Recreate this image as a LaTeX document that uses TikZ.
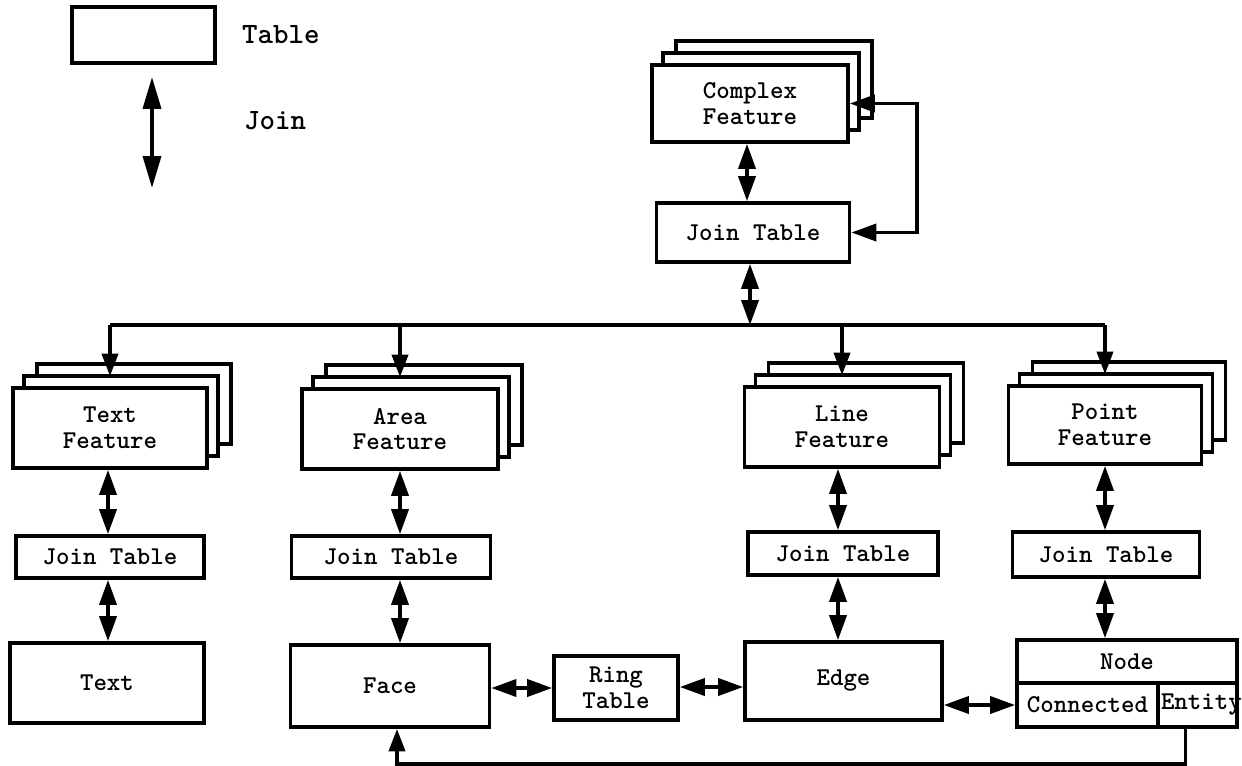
\documentclass[tikz,border=0pt]{standalone}
\usepackage{fontspec}
\usetikzlibrary{arrows.meta, shadows}

\begin{document}
\begin{tikzpicture}[x=0.02cm, y=-0.02cm,
    tbl/.style={draw, line width=2.1pt, fill=white, inner sep=0pt, align=center,
      font=\ttfamily\bfseries\fontsize{14.6}{14.6}\selectfont},
    stack/.style={tbl,
      copy shadow={shadow xshift=0.48cm, shadow yshift=0.48cm, line width=2.1pt, draw=black, fill=white},
      copy shadow={shadow xshift=0.22cm, shadow yshift=0.24cm, line width=2.1pt, draw=black, fill=white}},
    joinarr/.style={line width=2.1pt, {Triangle[length=0.5cm,width=0.34cm]}-{Triangle[length=0.5cm,width=0.34cm]}},
    into/.style={line width=2.1pt, -{Triangle[length=0.45cm,width=0.32cm]}},
    lgd/.style={font=\ttfamily\bfseries\fontsize{16.8}{17}\selectfont, anchor=west}]
  \useasboundingbox (0,0) rectangle (1242,765);

  % legend
  \node[tbl, minimum width=2.86cm, minimum height=1.12cm] (lg) at (143.5,35) {};
  \node[lgd] (lgt) at (236,35) {Table};
  \coordinate (ja) at (152,77);
  \coordinate (jb) at (152,188);
  \draw[line width=2.1pt, {Triangle[length=0.64cm,width=0.36cm]}-{Triangle[length=0.64cm,width=0.36cm]}] (ja) -- (jb);
  \node[lgd] (lgj) at (238,121) {Join};

  % complex feature
  \node[stack, minimum width=3.92cm, minimum height=1.54cm] (cf) at (750,103.5) {Complex\\Feature};
  \node[tbl, minimum width=3.86cm, minimum height=1.18cm] (cj) at (753,232.5) {Join Table};
  \coordinate (bus) at (750,325);

  % features
  \node[stack, minimum width=3.88cm, minimum height=1.6cm] (tf) at (110,428) {Text\\Feature};
  \node[stack, minimum width=3.92cm, minimum height=1.6cm] (af) at (400,429) {Area\\Feature};
  \node[stack, minimum width=3.9cm, minimum height=1.6cm] (lf) at (842,427) {Line\\Feature};
  \node[stack, minimum width=3.86cm, minimum height=1.56cm] (pf) at (1105,425) {Point\\Feature};

  % join tables
  \node[tbl, minimum width=3.76cm, minimum height=0.84cm] (tj) at (110,557) {Join Table};
  \node[tbl, minimum width=3.98cm, minimum height=0.84cm] (aj) at (391,557) {Join Table};
  \node[tbl, minimum width=3.8cm, minimum height=0.86cm] (lj) at (843,553.5) {Join Table};
  \node[tbl, minimum width=3.74cm, minimum height=0.9cm] (pj) at (1106,554.5) {Join Table};

  % primitives
  \node[tbl, minimum width=3.88cm, minimum height=1.6cm] (tx) at (107,683) {Text};
  \node[tbl, minimum width=3.98cm, minimum height=1.64cm] (fc) at (390,686) {Face};
  \node[tbl, minimum width=2.48cm, minimum height=1.28cm] (rt) at (616,688) {Ring\\Table};
  \node[tbl, minimum width=3.94cm, minimum height=1.56cm] (ed) at (843.5,681) {Edge};
  \node[tbl, minimum width=4.4cm, minimum height=0.86cm] (nd) at (1127,661.5) {Node};
  \node[tbl, minimum width=2.82cm, minimum height=0.88cm] (cn) at (1087.5,705) {Connected};
  \node[tbl, minimum width=1.58cm, minimum height=0.88cm] (en) at (1197.5,705) {};
  \node[tbl, draw=none, fill=none, anchor=west] (ent) at ([xshift=0.06cm]en.west) {Entity};

  % joins
  \draw[joinarr] ([xshift=-0.06cm]cf.south) -- ([xshift=-0.12cm]cj.north);
  \draw[joinarr] (cf.east) -- ++(67,0) |- (cj.east);
  \draw[joinarr] (cj.south -| bus) -- (bus);
  \draw[line width=2.1pt] (bus -| tf.north) -- (bus -| pf.north);
  \foreach \f in {tf,af,lf,pf}
    \draw[into] (bus -| \f.north) -- ([yshift=0.2cm]\f.north);
  \draw[joinarr] ([xshift=-0.04cm]tf.south) -- ([xshift=-0.04cm]tf.south |- tj.north);
  \draw[joinarr] ([xshift=-0.04cm]tj.south) -- ([xshift=-0.04cm]tj.south |- tx.north);
  \draw[joinarr] (af.south) -- (af.south |- aj.north);
  \draw[joinarr] (aj.south -| af.south) -- (fc.north -| af.south);
  \draw[joinarr] ([xshift=-0.08cm]lf.south) -- ([xshift=-0.08cm]lf.south |- lj.north);
  \draw[joinarr] ([xshift=-0.08cm]lj.south -| lf.south) -- ([xshift=-0.08cm]ed.north -| lf.south);
  \draw[joinarr] (pf.south) -- (pf.south |- pj.north);
  \draw[joinarr] (pj.south -| pf.south) -- (nd.north -| pf.south);
  \draw[joinarr] (rt.west -| fc.east) -- (rt.west);
  \draw[joinarr] ([yshift=0.02cm]rt.east) -- ([yshift=0.02cm]rt.east -| ed.west);
  \draw[joinarr] (cn.west -| ed.east) -- (cn.west);
  \draw[into] ([xshift=-0.24cm]en.south) -- ++(0,35) -| ([xshift=0.14cm]fc.south);
\end{tikzpicture}
\end{document}
